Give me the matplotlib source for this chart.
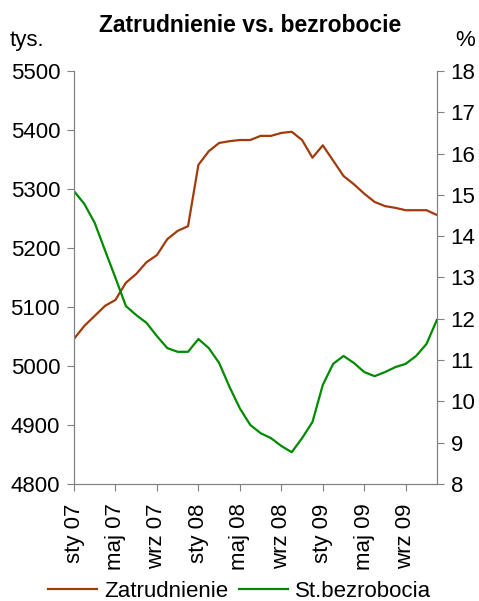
import matplotlib
matplotlib.use("Agg")
import matplotlib.pyplot as plt

plt.rcParams["font.family"] = ["Liberation Sans", "DejaVu Sans"]

# monthly, sty 07 .. gru 09
months = list(range(36))
tick_pos = [0, 4, 8, 12, 16, 20, 24, 28, 32]
tick_labels = ["sty 07", "maj 07", "wrz 07", "sty 08", "maj 08",
               "wrz 08", "sty 09", "maj 09", "wrz 09"]

zatrudnienie = [5046, 5068, 5085, 5102, 5112, 5141, 5156, 5176, 5188, 5215,
                5229, 5237, 5341, 5364, 5378, 5381, 5383, 5383, 5390, 5390,
                5395, 5397, 5383, 5353, 5374, 5348, 5322, 5308, 5292, 5278,
                5271, 5268, 5264, 5264, 5264, 5256]
bezrobocie = [15.09, 14.78, 14.32, 13.65, 12.99, 12.31, 12.09, 11.90, 11.58,
              11.29, 11.20, 11.20, 11.51, 11.29, 10.93, 10.35, 9.83, 9.43,
              9.23, 9.11, 8.92, 8.77, 9.11, 9.50, 10.40, 10.91, 11.10, 10.93,
              10.71, 10.61, 10.71, 10.83, 10.91, 11.10, 11.39, 11.97]

BROWN = "#A33A0C"
GREEN = "#008A00"
GREY = "#808080"
FS = 16

fig = plt.figure(figsize=(4.79, 6.01), dpi=100)
ax = fig.add_axes([0.1545, 0.1947, 0.912 - 0.1545, 0.8819 - 0.1947])
ax2 = ax.twinx()

l1, = ax.plot(months, zatrudnienie, color=BROWN, lw=1.6)
l2, = ax2.plot(months, bezrobocie, color=GREEN, lw=1.6)

ax.set_xlim(0, 35)
ax.set_ylim(4800, 5500)
ax.set_yticks(range(4800, 5501, 100))
ax2.set_ylim(8, 18)
ax2.set_yticks(range(8, 19))
ax.set_xticks(tick_pos)
ax.set_xticklabels(tick_labels, rotation=90)

for a in (ax, ax2):
    a.spines["top"].set_visible(False)
    for s in ("left", "right", "bottom"):
        a.spines[s].set_color(GREY)
    a.tick_params(colors=GREY, labelcolor="black", labelsize=FS,
                  length=5, pad=5)
ax.tick_params(axis="x", pad=9)

fig.text(0.522, 0.958, "Zatrudnienie vs. bezrobocie", ha="center",
         va="center", fontsize=16.5, fontweight="bold")
fig.text(0.02, 0.933, "tys.", ha="left", va="center", fontsize=FS)
fig.text(0.992, 0.933, "%", ha="right", va="center", fontsize=FS)

fig.legend([l1, l2], ["Zatrudnienie", "St.bezrobocia"], loc="center",
           bbox_to_anchor=(0.5, 0.016), ncol=2, frameon=False, fontsize=FS,
           handlelength=2.2, handletextpad=0.3, columnspacing=0.5,
           borderpad=0, borderaxespad=0)

fig.savefig("out.png", dpi=100)
